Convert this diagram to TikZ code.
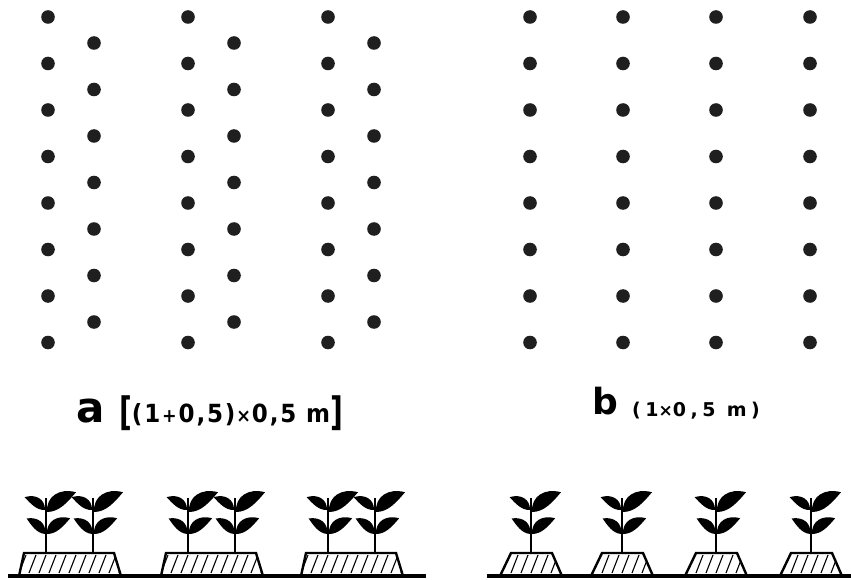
\documentclass[tikz,border=0pt]{standalone}
\usepackage{graphicx}
\usepackage{fontspec}
\setmainfont{DejaVu Sans}
\newfontfamily\labfont[LetterSpace=8]{DejaVu Sans}
\newfontfamily\labfontb[LetterSpace=24]{DejaVu Sans}
\newcommand\tallbracket[1]{\raisebox{-3pt}{\scalebox{1}[1.4]{\fontsize{28}{28}\selectfont#1}}}
\begin{document}
\begin{tikzpicture}[x=1pt,y=-1pt,
  dotc/.style={fill=black!88},
  ground/.style={line width=3.6pt},
  mound/.style={line width=2.4pt,line join=miter},
  hatch/.style={line width=1.1pt},
  stem/.style={line width=2.6pt},
  % a leaf 20 units long, pointing along +x, curling upwards
  leaf/.pic={\fill (0,0) .. controls (4,-8) and (13,-8.5) .. (20,-1.5) .. controls (13,1) and (6,3.5) .. (0,0) -- cycle;},
  plant/.pic={
    \draw[stem] (0,0) -- (0,-55);
    \pic[xscale=-1,rotate=28,scale=1.2] at (-1,-43) {leaf};
    \pic[rotate=30,scale=1.75] at (1,-41) {leaf};
    \pic[xscale=-1,rotate=36,scale=1.2] at (-1,-19) {leaf};
    \pic[rotate=30,scale=1.4] at (1,-19) {leaf};
  },
  lbl/.style={inner sep=0pt,font=\bfseries}
]
\useasboundingbox (0,0) rectangle (851,580);

% planting pattern a: paired rows, staggered
\foreach \c in {48,188,328}{
  \foreach \i in {0,...,7} \fill[dotc] (\c,17+46.5*\i) circle (6.8);
  \foreach \i in {0,...,6} \fill[dotc] (\c+46,43+46.5*\i) circle (6.8);
}
% planting pattern b: single rows
\foreach \c in {530,623,716,810}{
  \foreach \i in {0,...,7} \fill[dotc] (\c,17+46.5*\i) circle (6.8);
}

% labels
\node[lbl,anchor=base,font=\bfseries\fontsize{42}{42}\selectfont] (la) at (90.5,422) {a};
\node[lbl,anchor=base west] (lta) at (119,422) {\tallbracket{[}\scalebox{0.92}[1]{\labfont\bfseries\fontsize{25}{25}\selectfont(1\hspace{2pt}{\fontsize{19}{19}\selectfont+}\hspace{2pt}0,5)\hspace{1pt}{\fontsize{19}{19}\selectfont×}\hspace{1pt}0,5 m}\tallbracket{]}};
\node[lbl,anchor=base,font=\bfseries\fontsize{36}{36}\selectfont] (lb) at (605,414) {b};
\node[lbl,anchor=base west] (ltb) at (632,416) {\labfontb\bfseries\fontsize{19}{19}\selectfont(1{\fontsize{17}{17}\selectfont×}0,5 m)};

% ground
\draw[ground] (8,576) -- (426,576);
\draw[ground] (487,576) -- (851,576);

% double-row mounds
\foreach \c in {69,211,351}{
  \begin{scope}
    \clip (\c-50,575) -- (\c-45,553) -- (\c+45,553) -- (\c+52,575) -- cycle;
    \foreach \h in {-60,-50,...,50} \draw[hatch] (\c+\h,573) -- ++(7,-18);
  \end{scope}
  \draw[mound] (\c-50,576) -- (\c-45,553) -- (\c+45,553) -- (\c+52,576);
  \pic at (\c-23,553) {plant};
  \pic at (\c+24,553) {plant};
}
% single-row mounds
\foreach \c in {531,622,716,811}{
  \begin{scope}
    \clip (\c-30,575) -- (\c-20,553) -- (\c+20,553) -- (\c+31,575) -- cycle;
    \foreach \h in {-30,-20,...,20} \draw[hatch] (\c+\h,573) -- ++(7,-18);
  \end{scope}
  \draw[mound] (\c-31,576) -- (\c-20,553) -- (\c+21,553) -- (\c+31,576);
  \pic at (\c,553) {plant};
}
\end{tikzpicture}
\end{document}
